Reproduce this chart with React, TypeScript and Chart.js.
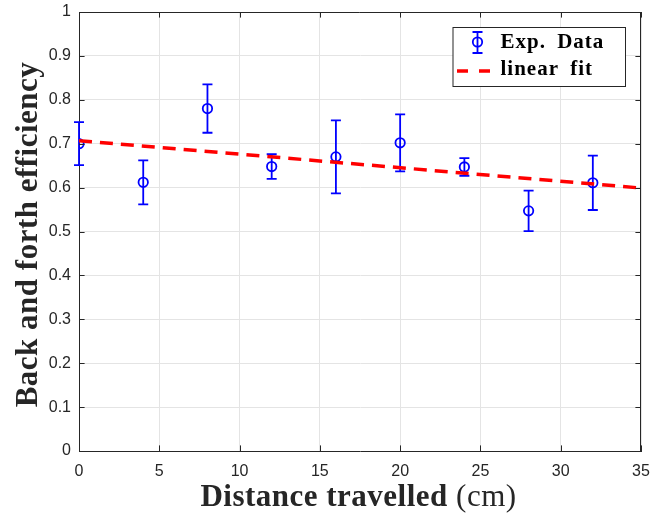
import React, { useEffect, useRef } from "react";
import { Chart, registerables } from "chart.js";

Chart.register(...registerables);

// ---- data ----
const xValues = [0, 4, 8, 12, 16, 20, 24, 28, 32];
const yValues = [0.7, 0.612, 0.78, 0.648, 0.67, 0.702, 0.647, 0.547, 0.611];
const yErrors = [0.049, 0.05, 0.055, 0.028, 0.083, 0.065, 0.02, 0.046, 0.062];
const fitX = [0, 35];
const fitY = [0.707, 0.599];
const xTicks = [0, 5, 10, 15, 20, 25, 30, 35];
const xTickLabels = ["0", "5", "10", "15", "20", "25", "30", "35"];
const yTicks = [0, 0.1, 0.2, 0.3, 0.4, 0.5, 0.6, 0.7, 0.8, 0.9, 1];
const yTickLabels = ["0", "0.1", "0.2", "0.3", "0.4", "0.5", "0.6", "0.7", "0.8", "0.9", "1"];
const seriesLabel = "Exp. Data";
const fitLabel = "linear fit";
const xTitleBold = "Distance travelled";
const xTitleUnit = "(cm)";
const yTitle = "Back and forth efficiency";

const AXIS = "#262626";
const BLUE = "#0000ff";
const RED = "#ff0000";
const SERIF = "'Liberation Serif', 'Times New Roman', serif";

const errorBarPlugin = {
  id: "errorBars",
  beforeDatasetsDraw(chart: any) {
    const { ctx, scales } = chart;
    const xs = scales.x;
    const ys = scales.y;
    ctx.save();
    ctx.strokeStyle = BLUE;
    ctx.lineWidth = 1.8;
    const cap = 5;
    xValues.forEach((xv, i) => {
      const px = xs.getPixelForValue(xv);
      const top = ys.getPixelForValue(yValues[i] + yErrors[i]);
      const bot = ys.getPixelForValue(yValues[i] - yErrors[i]);
      ctx.beginPath();
      ctx.moveTo(px, top);
      ctx.lineTo(px, bot);
      ctx.moveTo(px - cap, top);
      ctx.lineTo(px + cap, top);
      ctx.moveTo(px - cap, bot);
      ctx.lineTo(px + cap, bot);
      ctx.stroke();
    });
    ctx.restore();
  },
};

const decorPlugin = {
  id: "decor",
  afterDraw(chart: any) {
    const { ctx, chartArea, scales } = chart;
    const { left, right, top, bottom } = chartArea;
    ctx.save();
    // box top & right
    ctx.strokeStyle = AXIS;
    ctx.lineWidth = 1;
    const t = Math.round(top) + 0.5;
    const r = Math.round(right) - 0.5;
    ctx.beginPath();
    ctx.moveTo(left, t);
    ctx.lineTo(r, t);
    ctx.lineTo(r, bottom);
    ctx.stroke();
    // inward ticks
    const tl = 5.6;
    ctx.beginPath();
    xTicks.forEach((v) => {
      const px = Math.round(scales.x.getPixelForValue(v)) + 0.5;
      ctx.moveTo(px, bottom);
      ctx.lineTo(px, bottom - tl);
      ctx.moveTo(px, top);
      ctx.lineTo(px, top + tl);
    });
    yTicks.forEach((v) => {
      const py = Math.round(scales.y.getPixelForValue(v)) + 0.5;
      ctx.moveTo(left, py);
      ctx.lineTo(left + tl, py);
      ctx.moveTo(right, py);
      ctx.lineTo(right - tl, py);
    });
    ctx.stroke();

    // axis titles
    ctx.fillStyle = AXIS;
    ctx.textBaseline = "alphabetic";
    (ctx as any).letterSpacing = "0.5px";
    const boldFont = `bold 31px ${SERIF}`;
    const regFont = `31px ${SERIF}`;
    ctx.font = boldFont;
    const w1 = ctx.measureText(xTitleBold + " ").width;
    ctx.font = regFont;
    const w2 = ctx.measureText(xTitleUnit).width;
    const cx = (left + right) / 2 - 1.5;
    const sx = cx - (w1 + w2) / 2;
    ctx.textAlign = "left";
    ctx.font = boldFont;
    ctx.fillText(xTitleBold + " ", sx, bottom + 55);
    ctx.font = regFont;
    ctx.fillText(xTitleUnit, sx + w1, bottom + 55);

    ctx.save();
    ctx.translate(37, (top + bottom) / 2 + 3);
    ctx.rotate(-Math.PI / 2);
    ctx.textAlign = "center";
    ctx.font = boldFont;
    ctx.fillText(yTitle, 0, 0);
    ctx.restore();

    // legend
    const bx0 = Math.round(right - 16) + 0.5;
    const bw = 172.5;
    const by0 = Math.round(top + 15) + 0.5;
    const bh = 59;
    const bl = bx0 - bw;
    ctx.fillStyle = "#ffffff";
    ctx.fillRect(bl, by0, bw, bh);
    ctx.strokeStyle = AXIS;
    ctx.lineWidth = 1;
    ctx.strokeRect(bl, by0, bw, bh);

    const row1 = by0 + 14.5;
    const row2 = by0 + 43.5;
    // error bar symbol
    const sxm = bl + 24.5;
    ctx.strokeStyle = BLUE;
    ctx.lineWidth = 1.8;
    ctx.beginPath();
    ctx.moveTo(sxm, row1 - 10);
    ctx.lineTo(sxm, row1 + 11);
    ctx.moveTo(sxm - 5, row1 - 10);
    ctx.lineTo(sxm + 5, row1 - 10);
    ctx.moveTo(sxm - 5, row1 + 11);
    ctx.lineTo(sxm + 5, row1 + 11);
    ctx.stroke();
    ctx.beginPath();
    ctx.arc(sxm, row1, 4.7, 0, Math.PI * 2);
    ctx.stroke();
    // dashed symbol
    ctx.strokeStyle = RED;
    ctx.lineWidth = 3.5;
    ctx.beginPath();
    ctx.moveTo(bl + 4, row2);
    ctx.lineTo(bl + 15, row2);
    ctx.moveTo(bl + 26, row2);
    ctx.lineTo(bl + 37, row2);
    ctx.stroke();

    ctx.fillStyle = "#000000";
    ctx.font = `bold 21px ${SERIF}`;
    ctx.textAlign = "left";
    (ctx as any).letterSpacing = "1px";
    (ctx as any).wordSpacing = "5px";
    ctx.fillText(seriesLabel, bl + 47.5, by0 + 20.5);
    ctx.fillText(fitLabel, bl + 47.5, by0 + 47.5);
    ctx.restore();
  },
};

export default function App() {
  const ref = useRef<HTMLCanvasElement | null>(null);
  useEffect(() => {
    if (!ref.current) return;
    const tickFont = { family: "'Liberation Sans', Arial, sans-serif", size: 16 };
    const chart = new Chart(ref.current, {
      type: "scatter",
      data: {
        datasets: [
          {
            type: "line",
            label: fitLabel,
            data: fitX.map((x, i) => ({ x, y: fitY[i] })),
            borderColor: RED,
            borderWidth: 3.5,
            borderDash: [13, 8],
            pointRadius: 0,
            fill: false,
            order: 0,
          } as any,
          {
            type: "scatter",
            label: seriesLabel,
            data: xValues.map((x, i) => ({ x, y: yValues[i] })),
            borderColor: BLUE,
            backgroundColor: "rgba(0,0,0,0)",
            pointRadius: 4.7,
            pointBorderWidth: 1.8,
            borderWidth: 1.8,
            order: 1,
          } as any,
        ],
      },
      options: {
        responsive: false,
        animation: false,
        layout: { padding: { left: 0, top: 12, right: 11, bottom: 0 } },
        plugins: { legend: { display: false }, tooltip: { enabled: false } },
        scales: {
          x: {
            type: "linear",
            min: 0,
            max: 35,
            afterBuildTicks: (s: any) => {
              s.ticks = xTicks.map((v) => ({ value: v }));
            },
            afterFit: (s: any) => {
              s.height = 65;
              s.paddingLeft = 0;
              s.paddingRight = 0;
            },
            ticks: {
              font: tickFont,
              color: AXIS,
              padding: 11,
              maxRotation: 0,
              autoSkip: false,
              callback: (v: any) => {
                const i = xTicks.indexOf(Number(v));
                return i >= 0 ? xTickLabels[i] : "";
              },
            },
            grid: { color: "#e4e4e4", drawTicks: false, lineWidth: 1 },
            border: { color: AXIS, width: 1 },
          },
          y: {
            type: "linear",
            min: 0,
            max: 1,
            afterBuildTicks: (s: any) => {
              s.ticks = yTicks.map((v) => ({ value: v }));
            },
            afterFit: (s: any) => {
              s.width = 79;
              s.paddingTop = 0;
              s.paddingBottom = 0;
            },
            ticks: {
              font: tickFont,
              color: AXIS,
              padding: 8,
              autoSkip: false,
              callback: (v: any) => {
                const i = yTicks.findIndex((t) => Math.abs(t - Number(v)) < 1e-9);
                return i >= 0 ? yTickLabels[i] : "";
              },
            },
            grid: { color: "#e4e4e4", drawTicks: false, lineWidth: 1 },
            border: { color: AXIS, width: 1 },
          },
        },
      },
      plugins: [errorBarPlugin, decorPlugin],
    } as any);
    return () => chart.destroy();
  }, []);
  return (
    <canvas
      ref={ref}
      width={652}
      height={516}
      style={{ position: "absolute", left: 0, top: 0, width: 652, height: 516 }}
    />
  );
}
